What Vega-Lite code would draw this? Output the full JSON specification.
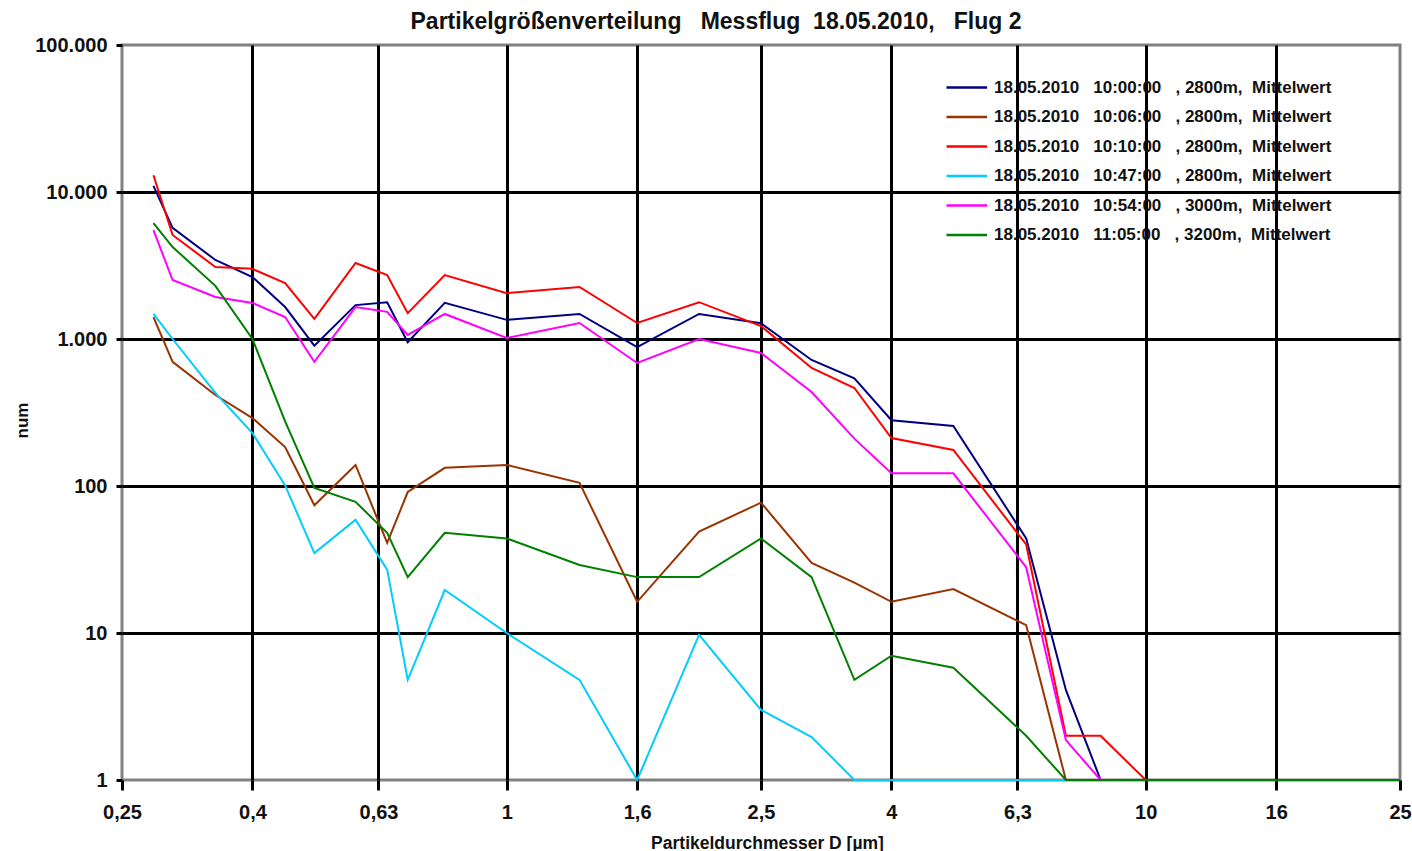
{
  "$schema": "https://vega.github.io/schema/vega-lite/v6.json",
  "width": 1278,
  "height": 735,
  "autosize": {"type": "none"},
  "padding": {"left": 122, "top": 45, "right": 12, "bottom": 71},
  "background": "white",
  "title": {
    "text": "Partikelgrößenverteilung\u00a0\u00a0 Messflug\u00a0 18.05.2010,\u00a0\u00a0 Flug 2",
    "font": "Liberation Sans", "fontSize": 23, "fontWeight": "bold", "color": "#111111",
    "anchor": "middle", "frame": "group", "dx": -45, "offset": -17, "baseline": "alphabetic"
  },
  "config": {
    "view": {"stroke": "#808080", "strokeWidth": 3},
    "axis": {
      "labelFont": "Liberation Sans", "labelFontSize": 20, "labelFontWeight": "bold", "labelColor": "#111111",
      "titleFont": "Liberation Sans", "titleFontWeight": "bold", "titleColor": "#111111",
      "domain": false, "tickColor": "#000000", "tickWidth": 3,
      "gridWidth": 3, "labelFlush": false, "labelOverlap": false
    }
  },
  "data": {"values": [
    {"k":"1","d":0.28,"v":11000},{"k":"1","d":0.3,"v":5700},{"k":"1","d":0.35,"v":3450},{"k":"1","d":0.4,"v":2640},{"k":"1","d":0.45,"v":1650},{"k":"1","d":0.5,"v":900},{"k":"1","d":0.58,"v":1700},{"k":"1","d":0.65,"v":1780},{"k":"1","d":0.7,"v":950},{"k":"1","d":0.8,"v":1760},{"k":"1","d":1,"v":1350},{"k":"1","d":1.3,"v":1480},{"k":"1","d":1.6,"v":880},{"k":"1","d":2,"v":1480},{"k":"1","d":2.5,"v":1280},{"k":"1","d":3,"v":720},{"k":"1","d":3.5,"v":540},{"k":"1","d":4,"v":280},{"k":"1","d":5,"v":256},{"k":"1","d":6.5,"v":44},{"k":"1","d":7.5,"v":4.1},{"k":"1","d":8.5,"v":1},{"k":"1","d":10,"v":1},{"k":"1","d":12,"v":1},{"k":"1","d":15,"v":1},{"k":"1","d":20,"v":1},{"k":"1","d":25,"v":1},
    {"k":"2","d":0.28,"v":1410},{"k":"2","d":0.3,"v":700},{"k":"2","d":0.35,"v":416},{"k":"2","d":0.4,"v":290},{"k":"2","d":0.45,"v":184},{"k":"2","d":0.5,"v":74},{"k":"2","d":0.58,"v":139},{"k":"2","d":0.65,"v":41},{"k":"2","d":0.7,"v":91},{"k":"2","d":0.8,"v":133},{"k":"2","d":1,"v":139},{"k":"2","d":1.3,"v":105},{"k":"2","d":1.6,"v":16.3},{"k":"2","d":2,"v":49},{"k":"2","d":2.5,"v":77},{"k":"2","d":3,"v":30},{"k":"2","d":3.5,"v":22},{"k":"2","d":4,"v":16.3},{"k":"2","d":5,"v":19.9},{"k":"2","d":6.5,"v":11.3},{"k":"2","d":7.5,"v":1},{"k":"2","d":8.5,"v":1},{"k":"2","d":10,"v":1},{"k":"2","d":12,"v":1},{"k":"2","d":15,"v":1},{"k":"2","d":20,"v":1},{"k":"2","d":25,"v":1},
    {"k":"3","d":0.28,"v":13000},{"k":"3","d":0.3,"v":5100},{"k":"3","d":0.35,"v":3090},{"k":"3","d":0.4,"v":3000},{"k":"3","d":0.45,"v":2400},{"k":"3","d":0.5,"v":1370},{"k":"3","d":0.58,"v":3290},{"k":"3","d":0.65,"v":2720},{"k":"3","d":0.7,"v":1500},{"k":"3","d":0.8,"v":2720},{"k":"3","d":1,"v":2050},{"k":"3","d":1.3,"v":2260},{"k":"3","d":1.6,"v":1285},{"k":"3","d":2,"v":1780},{"k":"3","d":2.5,"v":1225},{"k":"3","d":3,"v":635},{"k":"3","d":3.5,"v":464},{"k":"3","d":4,"v":212},{"k":"3","d":5,"v":176},{"k":"3","d":6.5,"v":40},{"k":"3","d":7.5,"v":2},{"k":"3","d":8.5,"v":2},{"k":"3","d":10,"v":1},{"k":"3","d":12,"v":1},{"k":"3","d":15,"v":1},{"k":"3","d":20,"v":1},{"k":"3","d":25,"v":1},
    {"k":"4","d":0.28,"v":1480},{"k":"4","d":0.3,"v":1000},{"k":"4","d":0.35,"v":430},{"k":"4","d":0.4,"v":229},{"k":"4","d":0.45,"v":101},{"k":"4","d":0.5,"v":35},{"k":"4","d":0.58,"v":59},{"k":"4","d":0.65,"v":27},{"k":"4","d":0.7,"v":4.8},{"k":"4","d":0.8,"v":19.6},{"k":"4","d":1,"v":10},{"k":"4","d":1.3,"v":4.8},{"k":"4","d":1.6,"v":1},{"k":"4","d":2,"v":9.7},{"k":"4","d":2.5,"v":3},{"k":"4","d":3,"v":1.96},{"k":"4","d":3.5,"v":1},{"k":"4","d":4,"v":1},{"k":"4","d":5,"v":1},{"k":"4","d":6.5,"v":1},{"k":"4","d":7.5,"v":1},{"k":"4","d":8.5,"v":1},{"k":"4","d":10,"v":1},{"k":"4","d":12,"v":1},{"k":"4","d":15,"v":1},{"k":"4","d":20,"v":1},{"k":"4","d":25,"v":1},
    {"k":"5","d":0.28,"v":5500},{"k":"5","d":0.3,"v":2520},{"k":"5","d":0.35,"v":1930},{"k":"5","d":0.4,"v":1760},{"k":"5","d":0.45,"v":1410},{"k":"5","d":0.5,"v":700},{"k":"5","d":0.58,"v":1650},{"k":"5","d":0.65,"v":1530},{"k":"5","d":0.7,"v":1065},{"k":"5","d":0.8,"v":1480},{"k":"5","d":1,"v":1016},{"k":"5","d":1.3,"v":1285},{"k":"5","d":1.6,"v":687},{"k":"5","d":2,"v":1000},{"k":"5","d":2.5,"v":803},{"k":"5","d":3,"v":436},{"k":"5","d":3.5,"v":210},{"k":"5","d":4,"v":122},{"k":"5","d":5,"v":122},{"k":"5","d":6.5,"v":28},{"k":"5","d":7.5,"v":1.87},{"k":"5","d":8.5,"v":1},{"k":"5","d":10,"v":1},{"k":"5","d":12,"v":1},{"k":"5","d":15,"v":1},{"k":"5","d":20,"v":1},{"k":"5","d":25,"v":1},
    {"k":"6","d":0.28,"v":6150},{"k":"6","d":0.3,"v":4225},{"k":"6","d":0.35,"v":2300},{"k":"6","d":0.4,"v":1000},{"k":"6","d":0.45,"v":275},{"k":"6","d":0.5,"v":97},{"k":"6","d":0.58,"v":78},{"k":"6","d":0.65,"v":48},{"k":"6","d":0.7,"v":24},{"k":"6","d":0.8,"v":48},{"k":"6","d":1,"v":44},{"k":"6","d":1.3,"v":29},{"k":"6","d":1.6,"v":24},{"k":"6","d":2,"v":24},{"k":"6","d":2.5,"v":44},{"k":"6","d":3,"v":24},{"k":"6","d":3.5,"v":4.8},{"k":"6","d":4,"v":7},{"k":"6","d":5,"v":5.8},{"k":"6","d":6.5,"v":2},{"k":"6","d":7.5,"v":1},{"k":"6","d":8.5,"v":1},{"k":"6","d":10,"v":1},{"k":"6","d":12,"v":1},{"k":"6","d":15,"v":1},{"k":"6","d":20,"v":1},{"k":"6","d":25,"v":1}
  ]},
  "mark": {"type": "line", "strokeWidth": 2},
  "encoding": {
    "x": {
      "field": "d", "type": "quantitative",
      "scale": {"type": "log", "domain": [0.25, 25], "nice": false},
      "axis": {
        "values": [0.25, 0.4, 0.63, 1, 1.6, 2.5, 4, 6.3, 10, 16, 25],
        "labelExpr": "replace(toString(datum.value), '.', ',')",
        "grid": true,
        "gridColor": {"condition": {"test": "datum.value <= 0.25 || datum.value >= 25", "value": "transparent"}, "value": "#000000"},
        "tickSize": 10, "labelPadding": 12,
        "title": "Partikeldurchmesser D [µm]", "titleFontSize": 17.5,
        "titleX": 645, "titleY": 63, "titleAnchor": "middle", "titleAlign": "center", "titleBaseline": "middle"
      }
    },
    "y": {
      "field": "v", "type": "quantitative",
      "scale": {"type": "log", "domain": [1, 100000], "nice": false},
      "axis": {
        "values": [1, 10, 100, 1000, 10000, 100000],
        "labelExpr": "replace(format(datum.value, ','), ',', '.')",
        "grid": true,
        "gridColor": {"condition": {"test": "datum.value <= 1 || datum.value >= 100000", "value": "transparent"}, "value": "#000000"},
        "tickSize": 6, "labelPadding": 9,
        "title": "num", "titleFontSize": 17, "titleAngle": -90,
        "titleX": -100, "titleY": 375, "titleAlign": "center", "titleBaseline": "middle"
      }
    },
    "color": {
      "field": "k", "type": "nominal",
      "scale": {"domain": ["1", "2", "3", "4", "5", "6"], "range": ["#000080", "#993300", "#FF0000", "#00CCFF", "#FF00FF", "#008000"]},
      "legend": {
        "orient": "none", "legendX": 823, "legendY": 34, "title": null, "padding": 0,
        "symbolType": "M-1,0H4.8", "symbolSize": 196, "symbolStrokeWidth": 2.5,
        "labelFont": "Liberation Sans", "labelFontSize": 17, "labelFontWeight": "bold", "labelColor": "#111111",
        "labelOffset": 32, "rowPadding": 11.5, "labelLimit": 0,
        "labelExpr": "['18.05.2010\u00a0\u00a0 10:00:00\u00a0\u00a0 ,\u00a02800m,\u00a0 Mittelwert', '18.05.2010\u00a0\u00a0 10:06:00\u00a0\u00a0 ,\u00a02800m,\u00a0 Mittelwert', '18.05.2010\u00a0\u00a0 10:10:00\u00a0\u00a0 ,\u00a02800m,\u00a0 Mittelwert', '18.05.2010\u00a0\u00a0 10:47:00\u00a0\u00a0 ,\u00a02800m,\u00a0 Mittelwert', '18.05.2010\u00a0\u00a0 10:54:00\u00a0\u00a0 ,\u00a03000m,\u00a0 Mittelwert', '18.05.2010\u00a0\u00a0 11:05:00\u00a0\u00a0 ,\u00a03200m,\u00a0 Mittelwert'][toNumber(datum.label) - 1]"
      }
    }
  }
}
